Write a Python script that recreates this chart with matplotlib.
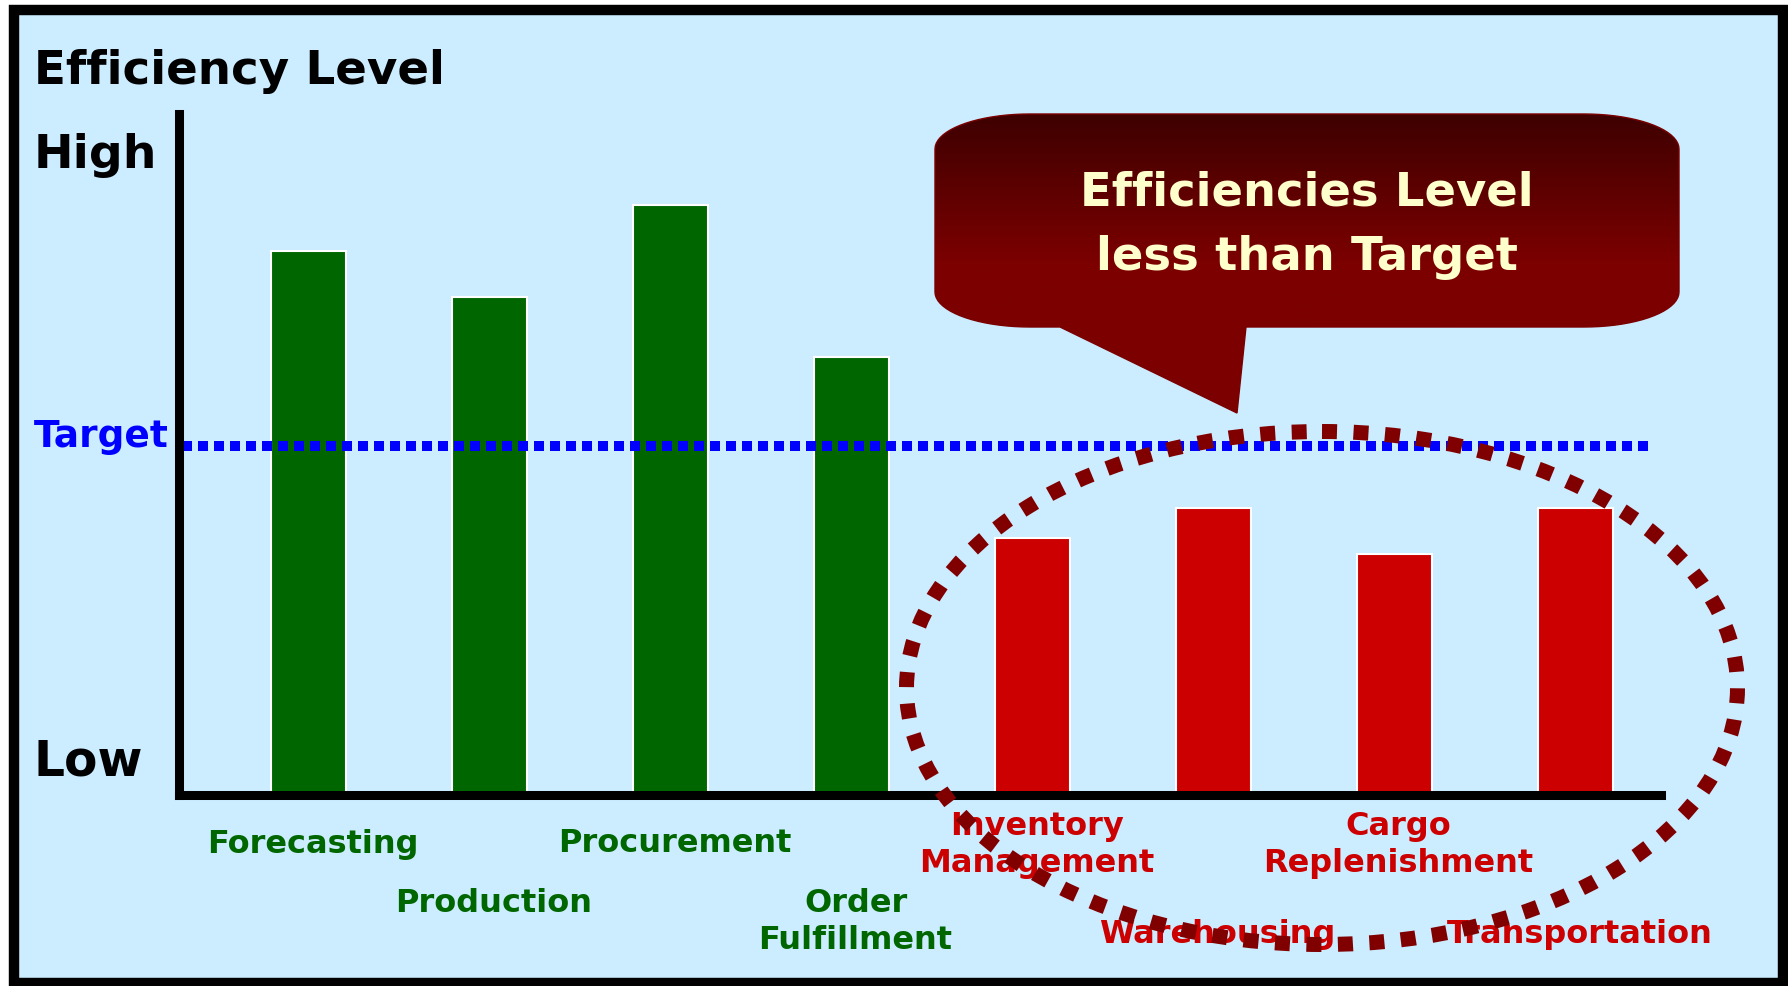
import numpy as np
import matplotlib.pyplot as plt
from matplotlib.patches import Ellipse, Rectangle, PathPatch
from matplotlib.path import Path
from matplotlib.colors import LinearSegmentedColormap
import matplotlib.transforms as mtransforms

# data (0 = Low, 100 = top of axis)
categories = ['Forecasting', 'Production', 'Procurement', 'Order\nFulfillment',
              'Inventory\nManagement', 'Warehousing', 'Cargo\nReplenishment', 'Transportation']
values = [79.9, 73.2, 86.6, 64.3, 37.7, 42.1, 35.4, 42.1]
target = 51.2
bar_colors = ['#006600'] * 4 + ['#CC0000'] * 4

title = 'Efficiency Level'
callout_text = 'Efficiencies Level\nless than Target'

W, H = 1788, 986
bg = '#CCECFF'
plt.rcParams['font.family'] = 'DejaVu Sans'

fig = plt.figure(figsize=(W / 100, H / 100), dpi=100)
fig.patch.set_facecolor('white')

# background panel (drawn first, behind everything)
back = fig.add_axes([0, 0, 1, 1])
back.set_xlim(0, W)
back.set_ylim(H, 0)
back.axis('off')
back.add_patch(Rectangle((14, 10), 1769, 973, facecolor=bg, edgecolor='none'))

# main axes: y axis at x=179, x axis at y=795, top at y=114, right end at 1661
ax = fig.add_axes([179 / W, 1 - 795 / H, (1661 - 179) / W, (795 - 114) / H])
ax.set_facecolor('none')
ax.set_xlim(-0.718, 7.47)
ax.set_ylim(0, 100)
for s in ['top', 'right']:
    ax.spines[s].set_visible(False)
for s in ['left', 'bottom']:
    ax.spines[s].set_linewidth(6.5)
    ax.spines[s].set_zorder(5)
ax.set_xticks([])
ax.set_yticks([])

x = np.arange(len(categories))
ax.bar(x, values, width=0.414, color=bar_colors, edgecolor='white', linewidth=1.5, zorder=2)
ax.hlines(target, -0.70, 7.40, colors='#0000FF', linewidth=7.2,
          linestyles=(0, (1, 0.6)), zorder=3)

# overlay in figure pixels (y down)
ov = fig.add_axes([0, 0, 1, 1])
ov.set_xlim(0, W)
ov.set_ylim(H, 0)
ov.axis('off')
ov.patch.set_alpha(0)

# category labels: x from bar positions, y in pixels
label_y = [844, 903, 844, 922, 845, 935, 845, 935]
trans = mtransforms.blended_transform_factory(ax.transData, ov.transData)
for i, lab in enumerate(categories):
    ax.text(x[i] + 0.02, label_y[i], lab, transform=trans, ha='center', va='center',
            fontsize=23, fontweight='bold', color=bar_colors[i], linespacing=1.22,
            clip_on=False)

# axis texts
ov.text(34, 72, title, fontsize=33.7, fontweight='bold', color='black', va='center', ha='left')
ov.text(34, 156, 'High', fontsize=34, fontweight='bold', color='black', va='center', ha='left')
ov.text(34, 762, 'Low', fontsize=35, fontweight='bold', color='black', va='center', ha='left')
ov.text(34, 437, 'Target', fontsize=27, fontweight='bold', color='#0000FF', va='center', ha='left')

# callout bubble with elliptical corners and a tail
x0, x1, y0, y1 = 935, 1679, 114, 327
rx, ry = 95, 35
t = np.linspace(0, np.pi / 2, 20)
pts = []
pts += list(zip(x0 + rx - rx * np.cos(t), y0 + ry - ry * np.sin(t)))   # top-left
pts += list(zip(x1 - rx + rx * np.sin(t), y0 + ry - ry * np.cos(t)))   # top-right
pts += list(zip(x1 - rx + rx * np.cos(t), y1 - ry + ry * np.sin(t)))   # bottom-right
pts += [(1246, y1), (1237, 413), (1060, y1)]                           # tail
pts += list(zip(x0 + rx - rx * np.sin(t), y1 - ry + ry * np.cos(t)))   # bottom-left
pts.append(pts[0])
bubble = PathPatch(Path(pts), facecolor='none', edgecolor='#7A0000', linewidth=1, zorder=3)
ov.add_patch(bubble)
grad = np.linspace(0, 1, 256).reshape(-1, 1)
cmap = LinearSegmentedColormap.from_list('bub', ['#3E0000', '#7C0000', '#7C0000'])
im = ov.imshow(grad, cmap=cmap, extent=[x0, x1, 413, y0], aspect='auto', zorder=2)
im.set_clip_path(bubble)
ov.set_xlim(0, W)
ov.set_ylim(H, 0)
ov.text(1307, 225, callout_text, fontsize=33.5, fontweight='bold', color='#FFFFCC',
        ha='center', va='center', linespacing=1.56, zorder=4)

# dotted ellipse
ov.add_patch(Ellipse((1322, 688), 831, 513, angle=0, fill=False, edgecolor='#800000',
                     linewidth=10.8, linestyle=(0, (1, 1.1)), zorder=6))

# outer frame
ov.add_patch(Rectangle((14, 10), 1769, 973, fill=False, edgecolor='black', linewidth=7.5, zorder=7))

fig.savefig('out.png', dpi=100, facecolor='white')
